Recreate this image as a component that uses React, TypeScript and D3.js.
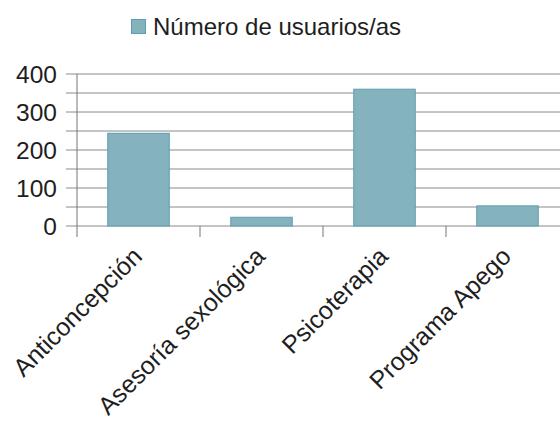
import { useEffect, useRef } from "react";
import * as d3 from "d3";

const categories = ["Anticoncepción", "Asesoría sexológica", "Psicoterapia", "Programa Apego"];
const usuarios = [244, 23, 360, 53];
const majorTicks = [0, 100, 200, 300, 400];
const gridValues = [0, 50, 100, 150, 200, 250, 300, 350, 400];
const seriesName = "Número de usuarios/as";

const W = 560;
const H = 423;
const FONT = "'Liberation Sans', Arial, sans-serif";
const BAR = "#84b3be";
const BAR_EDGE = "#5e9db1";

const App = () => {
  const ref = useRef<SVGSVGElement | null>(null);

  useEffect(() => {
    if (!ref.current) return;
    const svg = d3.select(ref.current);
    svg.selectAll("*").remove();

    const left = 77;
    const right = 569;
    const top = 74;
    const bottom = 226;

    const x = d3.scaleBand<string>().domain(categories).range([left, right]).paddingInner(0.5).paddingOuter(0.25);
    const y = d3.scaleLinear().domain([0, 400]).range([bottom, top]);
    const step = x.step();

    // grid lines
    svg
      .append("g")
      .selectAll("line")
      .data(gridValues)
      .enter()
      .append("line")
      .attr("x1", left - 11)
      .attr("x2", W)
      .attr("y1", d => y(d))
      .attr("y2", d => y(d))
      .attr("stroke", "#8a8a8a")
      .attr("stroke-width", 1);

    // y axis line
    svg
      .append("line")
      .attr("x1", left)
      .attr("x2", left)
      .attr("y1", top)
      .attr("y2", bottom + 11)
      .attr("stroke", "#777");

    // category separators
    svg
      .append("g")
      .selectAll("line")
      .data(categories.slice(1))
      .enter()
      .append("line")
      .attr("x1", d => x(d)! - (step - x.bandwidth()) / 2)
      .attr("x2", d => x(d)! - (step - x.bandwidth()) / 2)
      .attr("y1", bottom)
      .attr("y2", bottom + 11)
      .attr("stroke", "#777");

    // bars
    svg
      .append("g")
      .selectAll("rect")
      .data(usuarios)
      .enter()
      .append("rect")
      .attr("x", (d, i) => x(categories[i])!)
      .attr("y", d => y(d))
      .attr("width", x.bandwidth())
      .attr("height", d => bottom - y(d))
      .attr("fill", BAR)
      .attr("stroke", BAR_EDGE)
      .attr("stroke-width", 1);

    // y labels
    svg
      .append("g")
      .selectAll("text")
      .data(majorTicks)
      .enter()
      .append("text")
      .attr("x", 57)
      .attr("y", d => y(d))
      .attr("dy", "0.35em")
      .attr("text-anchor", "end")
      .attr("font-family", FONT)
      .attr("font-size", 24.5)
      .attr("fill", "#1e1e1e")
      .text(d => d);

    // category labels
    svg
      .append("g")
      .selectAll("text")
      .data(categories)
      .enter()
      .append("text")
      .attr("transform", d => `translate(${x(d)! + x.bandwidth() / 2 + 5}, 258) rotate(-45)`)
      .attr("text-anchor", "end")
      .attr("font-family", FONT)
      .attr("font-size", 25)
      .attr("fill", "#1e1e1e")
      .text(d => d);

    // legend
    svg
      .append("rect")
      .attr("x", 131.5)
      .attr("y", 19.5)
      .attr("width", 14)
      .attr("height", 14)
      .attr("fill", BAR)
      .attr("stroke", BAR_EDGE);
    svg
      .append("text")
      .attr("x", 153)
      .attr("y", 35)
      .attr("font-family", FONT)
      .attr("font-size", 24)
      .attr("fill", "#1e1e1e")
      .text(seriesName);
  }, []);

  return (
    <svg
      ref={ref}
      width={W}
      height={H}
      style={{ position: "absolute", left: 0, top: 0, display: "block", background: "#fff" }}
    />
  );
};

export default App;
